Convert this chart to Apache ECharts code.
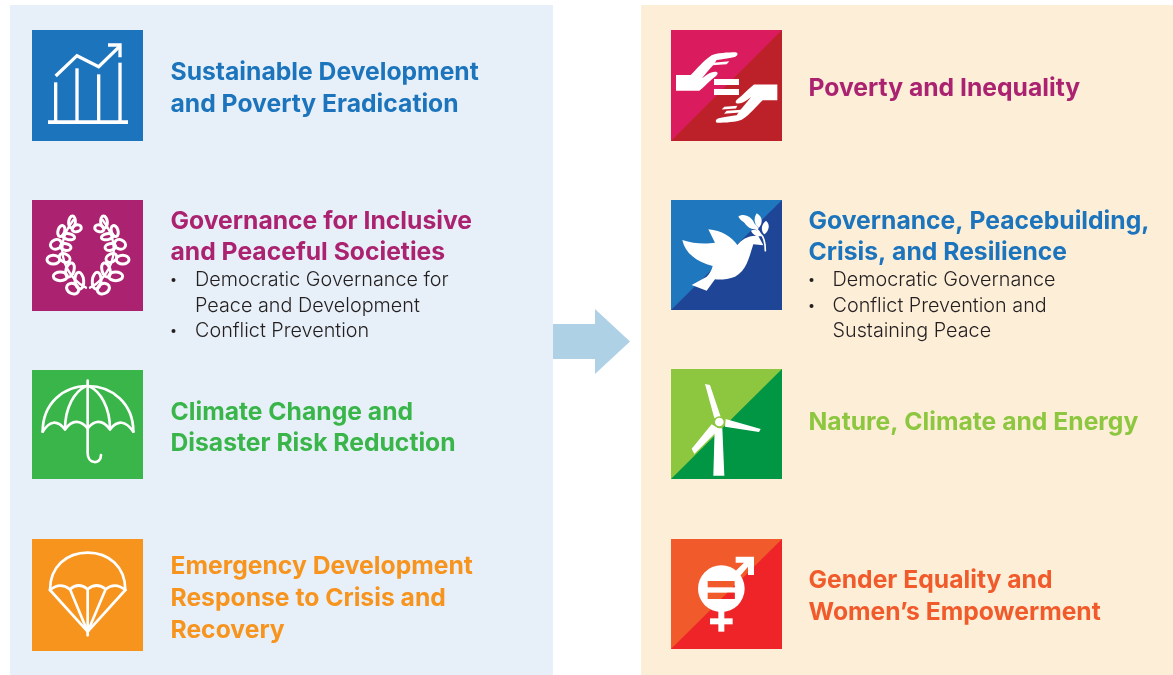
<!DOCTYPE html>
<html>
<head>
    <meta charset="utf-8">
    <title>Signature solutions</title>
    <script src="https://cdn.jsdelivr.net/npm/echarts@6/dist/echarts.min.js"></script>
    <style>html,body{margin:0;background:#fff}</style>
</head>
<body>
    <div id="main" style="width:1173px;height:675px;"></div>
    <script type="text/javascript">
        // left column
        var leftTitles = [
            ['Sustainable Development', 'and Poverty Eradication'],
            ['Governance for Inclusive', 'and Peaceful Societies'],
            ['Climate Change and', 'Disaster Risk Reduction'],
            ['Emergency Development', 'Response to Crisis and', 'Recovery']
        ];
        var leftBullets = ['Democratic Governance for', 'Peace and Development', 'Conflict Prevention'];
        var leftBulletStart = [true, false, true];

        // right column
        var rightTitles = [
            ['Poverty and Inequality'],
            ['Governance, Peacebuilding,', 'Crisis, and Resilience'],
            ['Nature, Climate and Energy'],
            ['Gender Equality and', 'Women\u2019s Empowerment']
        ];
        var rightBullets = ['Democratic Governance', 'Conflict Prevention and', 'Sustaining Peace'];
        var rightBulletStart = [true, true, false];

        var leftColors = ['#1C75BC', '#AB2370', '#39B54A', '#F7941E'];
        var rightColors = [['#DA1B5D', '#BC2029'], ['#1F78BE', '#1F4597'], ['#8DC63F', '#009644'], ['#F15B2B', '#EE2428']];
        var rightTextColors = ['#AB2370', '#1C75BC', '#8DC63F', '#F15B2B'];

        var TITLE_FONT = 'bold 24.7px Inter';
        var BODY_FONT = '300 19.8px Inter';

        var elements = [];

        // the graphic component has no plain 'path' type, register each one as a shape
        var shapeCount = 0;
        function path(d, style) {
            var name = 'iconPath' + (shapeCount++);
            echarts.graphic.registerShape(name, echarts.graphic.extendPath(d));
            return { type: name, style: style };
        }
        function line(d, w) {
            return path(d, { fill: 'none', stroke: '#fff', lineWidth: w || 8, lineCap: 'round', lineJoin: 'round' });
        }
        function fill(d, color) {
            return path(d, { fill: color || '#fff' });
        }
        function box(x, y, w, h, color) {
            return { type: 'rect', shape: { x: x, y: y, width: w, height: h }, style: { fill: color || '#fff' } };
        }
        function poly(points, color) {
            return { type: 'polygon', shape: { points: points }, style: { fill: color } };
        }
        // icons are written in 3x crop coordinates, ox/oy is the crop origin
        function icon(ox, oy, children) {
            elements.push({ type: 'group', x: ox, y: oy, scaleX: 1 / 3, scaleY: 1 / 3, children: children });
        }
        function label(x, y, str, font, color) {
            elements.push({
                type: 'text', x: x, y: y,
                style: { text: str, font: font, fill: color, align: 'left', verticalAlign: 'middle' }
            });
        }

        // panels
        elements.push(box(10, 5, 543, 670, '#E7F0F8'));
        elements.push(box(641, 5, 532, 670, '#FDEED8'));

        // arrow
        elements.push(box(553, 324, 43, 35, '#AED1E6'));
        elements.push(poly([[595, 309], [630, 341.5], [595, 374]], '#AED1E6'));

        // plain tiles on the left
        var leftTileY = [[30, 111], [200, 111], [370, 109], [539, 112]];
        leftTileY.forEach(function (t, i) {
            elements.push(box(32, t[0], 111, t[1], leftColors[i]));
        });

        // split tiles on the right
        var rightTileY = [[30, 141], [200, 310], [369, 479], [539, 649]];
        rightTileY.forEach(function (t, i) {
            elements.push(box(671, t[0], 111, t[1] - t[0], rightColors[i][0]));
            elements.push(poly([[671, t[1]], [782, t[0]], [782, t[1]]], rightColors[i][1]));
        });

        // chart icon
        icon(20, 20, [
            box(84, 301, 240, 11),
            box(102, 187, 10, 116), box(166, 145, 10, 158), box(231, 163, 10, 140), box(295, 128, 10, 175),
            path('M107 168L171 107L236 140L298 80', { fill: 'none', stroke: '#fff', lineWidth: 10, lineJoin: 'miter' }),
            path('M264 75L300 75L300 112', { fill: 'none', stroke: '#fff', lineWidth: 10, lineJoin: 'miter' })
        ]);

        // wreath, one branch and its mirror
        var wreathLeaves = [
            [156, 606, 10, 18, -0.1], [170, 625, 14, 10, 0.3], [124, 633, 10, 17, -0.3], [146, 650, 18, 9, -0.2],
            [108, 673, 17, 14, 0.4], [137, 681, 16, 10, -0.2], [100, 719, 19, 13, 0], [134, 714, 17, 12, -0.5],
            [121, 769, 21, 13, 0], [150, 750, 12, 22, -0.3], [158, 806, 19, 15, -0.5], [178, 782, 13, 25, 0.1]
        ];
        function wreathBranch() {
            var items = [line('M198 803C150 780 120 720 128 670C132 640 145 620 160 600', 7)];
            wreathLeaves.forEach(function (l) {
                items.push({
                    type: 'ellipse', x: l[0], y: l[1], rotation: l[4],
                    shape: { cx: 0, cy: 0, rx: l[2], ry: l[3] },
                    style: { fill: 'none', stroke: '#fff', lineWidth: 9 }
                });
            });
            return items;
        }
        icon(20, 20, wreathBranch());
        elements.push({ type: 'group', x: 20 + 408 / 3, y: 20, scaleX: -1 / 3, scaleY: 1 / 3, children: wreathBranch() });

        // umbrella
        icon(20, 360, [
            line('M68 215C68 130 130 78 203 78C276 78 340 130 340 215'),
            line('M68 215Q100 165 135 208Q168 165 203 205Q236 165 270 208Q305 165 340 215'),
            line('M135 208C135 140 165 95 195 80'),
            line('M270 208C270 140 240 95 210 80'),
            line('M203 62L203 280C203 314 243 314 243 285')
        ]);

        // parachute
        icon(20, 360, [
            line('M90 690C90 620 140 578 203 578C266 578 316 620 316 690'),
            line('M90 690Q120 665 150 688Q176 665 203 688Q230 665 257 688Q285 665 316 690'),
            line('M90 690L203 815L316 690'),
            line('M150 688L203 815L257 688'),
            line('M203 688L203 826')
        ]);

        // hands and equals sign
        var hand = 'M48 165L92 165C110 148 130 122 155 106C170 99 205 97 226 97C236 98 234 108 224 111'
            + 'C205 116 185 118 170 120L160 135C150 145 140 158 126 175C135 168 150 155 165 155C175 155 175 162 168 168'
            + 'C150 180 135 200 118 212L48 212Z';
        var handStrip = 'M160 128L208 124L200 133L156 136Z';
        icon(660, 20, [
            fill(hand), fill(handStrip),
            box(162, 177, 75, 18), box(162, 207, 75, 18),
            {
                type: 'group', x: 400, y: 405.5, rotation: Math.PI,
                children: [fill(hand), fill(handStrip), fill('M172 140L215 137L207 145L168 148Z')]
            }
        ]);

        // dove
        icon(660, 20, [
            fill('M67 660C100 672 140 672 165 668L145 628C185 632 215 650 232 675C245 660 265 645 295 648L310 676'
                + 'L280 673C265 720 260 750 225 770C205 778 180 780 165 778L140 812L95 795L140 770C150 760 155 750 158 738'
                + 'C110 725 75 700 67 660Z'),
            line('M316 692C316 670 312 650 300 640C295 630 285 622 270 612', 5),
            fill('M235 590C250 578 278 590 284 614C265 616 245 607 235 590Z'),
            fill('M252 605C270 598 288 610 296 627C280 632 260 622 252 605Z'),
            fill('M290 580C310 590 308 612 296 624C282 612 280 595 290 580Z'),
            fill('M318 602C331 612 328 632 313 643C301 632 304 612 318 602Z'),
            fill('M273 632C285 624 300 633 305 648C290 651 278 644 273 632Z')
        ]);

        // wind turbine
        icon(660, 360, [
            poly([[164, 205], [187, 205], [193, 347], [160, 347]], '#fff'),
            poly([[135, 72], [150, 75], [182, 170], [163, 175]], '#fff'),
            poly([[197, 177], [302, 207], [297, 216], [195, 200]], '#fff'),
            poly([[155, 193], [178, 207], [103, 282], [95, 266]], '#fff'),
            { type: 'circle', shape: { cx: 178, cy: 186, r: 15 }, style: { fill: '#fff', stroke: '#8DC63F', lineWidth: 4 } }
        ]);

        // gender symbol
        icon(660, 360, [
            { type: 'circle', shape: { cx: 184, cy: 686, r: 70 }, style: { fill: '#fff' } },
            poly([[227, 590], [282, 590], [282, 645], [264, 645], [264, 620], [240, 648], [226, 634], [252, 608], [227, 608]], '#fff'),
            box(175, 750, 18, 65), box(150, 775, 68, 18),
            box(143, 663, 81, 19, '#F15B2B'), box(143, 698, 81, 19, '#F15B2B'),
            poly([[202, 698], [224, 698], [224, 717], [183, 717]], '#EE2428'),
            poly([[218, 682], [224, 682], [224, 676]], '#EE2428')
        ]);

        // text blocks
        var leftTitleY = [[73, 105], [222, 253], [413, 444], [567, 599, 631]];
        leftTitles.forEach(function (lines, i) {
            lines.forEach(function (s, j) { label(170.5, leftTitleY[i][j], s, TITLE_FONT, leftColors[i]); });
        });
        var rightTitleY = [[89], [222, 253], [423], [581, 613]];
        rightTitles.forEach(function (lines, i) {
            lines.forEach(function (s, j) { label(808.5, rightTitleY[i][j], s, TITLE_FONT, rightTextColors[i]); });
        });

        var bulletY = [280, 306, 331];
        function bullets(lines, starts, dotX, textX) {
            lines.forEach(function (s, i) {
                label(textX, bulletY[i], s, BODY_FONT, '#231F20');
                if (starts[i]) {
                    elements.push({ type: 'circle', shape: { cx: dotX, cy: bulletY[i], r: 2 }, style: { fill: '#231F20' } });
                }
            });
        }
        bullets(leftBullets, leftBulletStart, 173.5, 195);
        bullets(rightBullets, rightBulletStart, 811.5, 832.5);

        var myChart = echarts.init(document.getElementById('main'));
        myChart.setOption({ animation: false, graphic: { elements: elements } });
    </script>
</body>
</html>
